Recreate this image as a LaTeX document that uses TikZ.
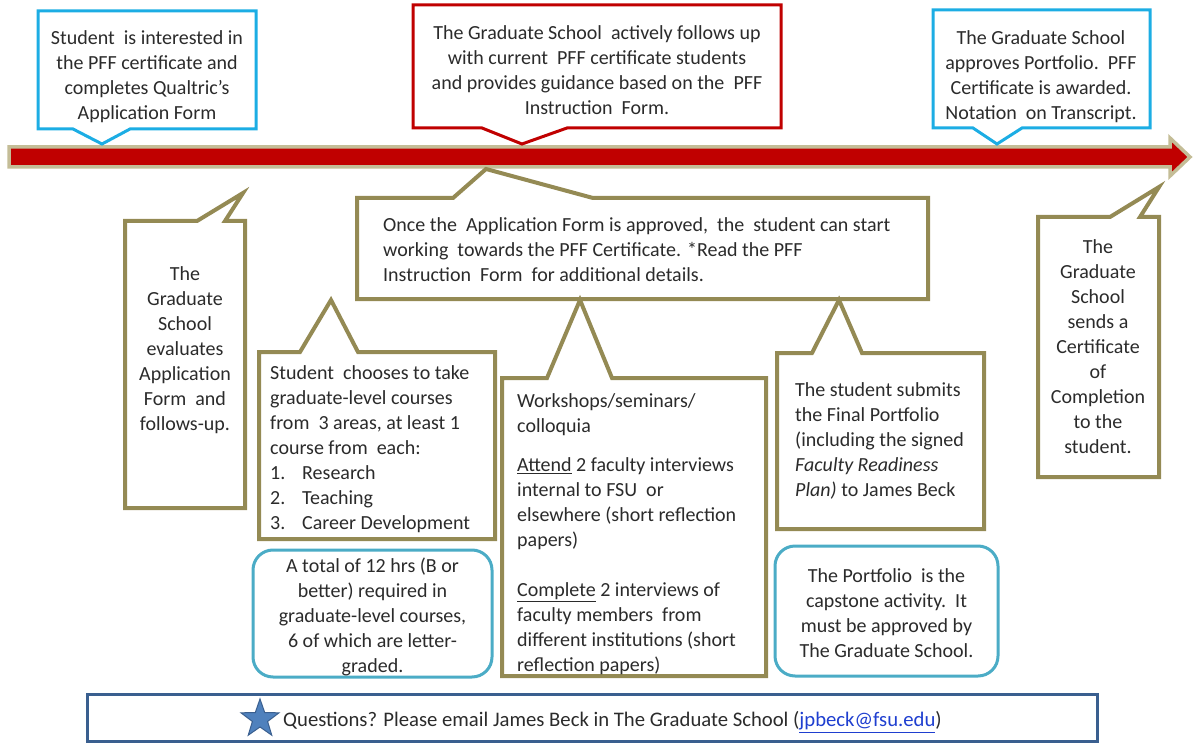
\documentclass[tikz,border=0pt]{standalone}
\usepackage{fontspec}
\setmainfont{Carlito}
\usetikzlibrary{shapes.geometric}
\definecolor{oliveC}{HTML}{948A54}
\definecolor{tanC}{HTML}{C4BD97}
\definecolor{redC}{HTML}{C00000}
\definecolor{blueC}{HTML}{1CADE4}
\definecolor{tealC}{HTML}{4BACC6}
\definecolor{navyC}{HTML}{3A5F8F}
\definecolor{starC}{HTML}{4F81BD}
\definecolor{txtC}{HTML}{2B2B2B}
\definecolor{linkC}{HTML}{1F3FD0}
\begin{document}
\begin{tikzpicture}[x=1pt,y=-1pt,
  txt/.style={inner sep=0pt, font=\fontsize{20}{25}\selectfont, text=txtC, execute at begin node=\strut, anchor=north},
  olv/.style={draw=oliveC, line width=4pt, fill=white, line join=miter},
  blu/.style={draw=blueC, line width=3pt, fill=white, line join=miter},
  redbox/.style={draw=redC, line width=3pt, fill=white, line join=miter},
  tealbox/.style={draw=tealC, line width=3pt, fill=white, rounded corners=20pt}]
\useasboundingbox (0,0) rectangle (1193,743);
% timeline arrow
\draw[fill=redC, draw=tanC, line width=3.5pt, line join=miter]
  (9,147) -- (1170,147) -- (1170,138) -- (1190,157) -- (1170,176) -- (1170,167) -- (9,167) -- cycle;
% callouts above
\draw[blu] (38,11) -- (256,11) -- (256,129) -- (130,129) -- (102,144) -- (73,129) -- (38,129) -- cycle;
\draw[redbox] (413,5) -- (781,5) -- (781,128) -- (567,128) -- (522,144) -- (482,128) -- (413,128) -- cycle;
\draw[blu] (933,10) -- (1150,10) -- (1150,128) -- (1022,128) -- (997,144) -- (973,128) -- (933,128) -- cycle;
% callouts below
\draw[olv] (125,221) -- (197,221) -- (243,193) -- (225,221) -- (245,221) -- (245,508) -- (125,508) -- cycle;
\draw[olv] (357,198) -- (453,198) -- (486,169) -- (593,198) -- (928,198) -- (928,299) -- (357,299) -- cycle;
\draw[olv] (259,352) -- (300,352) -- (331,300) -- (358,352) -- (495,352) -- (495,539) -- (259,539) -- cycle;
\draw[olv] (502,378) -- (547,378) -- (580,300) -- (612,378) -- (766,378) -- (766,676) -- (502,676) -- cycle;
\draw[olv] (777,353) -- (812,353) -- (839,300) -- (862,353) -- (984,353) -- (984,529) -- (777,529) -- cycle;
\draw[olv] (1038,217) -- (1110,217) -- (1159,187) -- (1140,217) -- (1159,217) -- (1159,477) -- (1038,477) -- cycle;
\draw[tealbox] (253,550) rectangle (492,677);
\draw[tealbox] (775,546) rectangle (998,676);
\draw[draw=navyC, line width=3pt, fill=white] (87,694) rectangle (1097,741);
% texts
\node[txt, align=center] (t1) at (147,30.5) {Student\ \ is interested in\\the PFF certificate and\\completes Qualtric’s\\Application Form};
\node[txt, align=center] (t2) at (597,25.5) {The Graduate School\ \ actively follows up\\with current\ \ PFF certificate students\\and provides guidance based on the\ \ PFF\\Instruction\ \ Form.};
\node[txt, align=center] (t3) at (1041,30.5) {The Graduate School\\approves Portfolio.\ \ PFF\\Certificate is awarded.\\Notation\ \ on Transcript.};
\node[txt, align=center] (t4) at (185,266.5) {The\\Graduate\\School\\evaluates\\Application\\Form\ \ and\\follows-up.};
\node[txt, align=left, anchor=north west] (t5) at (383,217.5) {Once the\ \ Application Form is approved,\ \ the\ \ student can start\\working\ \ towards the PFF Certificate. *Read the PFF\\Instruction\ \ Form\ \ for additional details.};
\node[txt, align=left, anchor=north west] (t6) at (270,365.5) {Student\ \ chooses to take\\graduate-level courses\\from\ \ 3 areas, at least 1\\course from\ \ each:\\\makebox[32pt][l]{1.}Research\\\makebox[32pt][l]{2.}Teaching\\\makebox[32pt][l]{3.}Career Development};
\node[txt, align=center] (t7) at (372.5,557.5) {A total of 12 hrs (B or\\better) required in\\graduate-level courses,\\6 of which are letter-\\graded.};
\node[txt, align=left, anchor=north west] (t8) at (517,393.5) {Workshops/seminars/\\colloquia\\[14pt]\underline{Attend} 2 faculty interviews\\internal to FSU\ \ or\\elsewhere (short reflection\\papers)\\[25pt]\underline{Complete} 2 interviews of\\faculty members\ \ from\\different institutions (short\\reflection papers)};
\node[txt, align=left, anchor=north west] (t9) at (795,382.5) {The student submits\\the Final Portfolio\\(including the signed\\\textit{Faculty Readiness}\\\textit{Plan)} to James Beck};
\node[txt, align=center] (t10) at (1098,239.5) {The\\Graduate\\School\\sends a\\Certificate\\of\\Completion\\to the\\student.};
\node[txt, align=center] (t11) at (886.5,568.5) {The Portfolio\ \ is the\\capstone activity.\ \ It\\must be approved by\\The Graduate School.};
% footer
\node[star, star points=5, star point ratio=2.5, minimum size=40pt, inner sep=0pt, fill=starC, draw=navyC, line width=1pt] (star) at (260,719) {};
\node[inner sep=0pt, anchor=west, font=\fontsize{20.7}{25}\selectfont, text=txtC] (q) at (283,722) {Questions? Please email James Beck in The Graduate School (\textcolor{linkC}{\underline{jpbeck@fsu.edu}})};
\end{tikzpicture}
\end{document}
